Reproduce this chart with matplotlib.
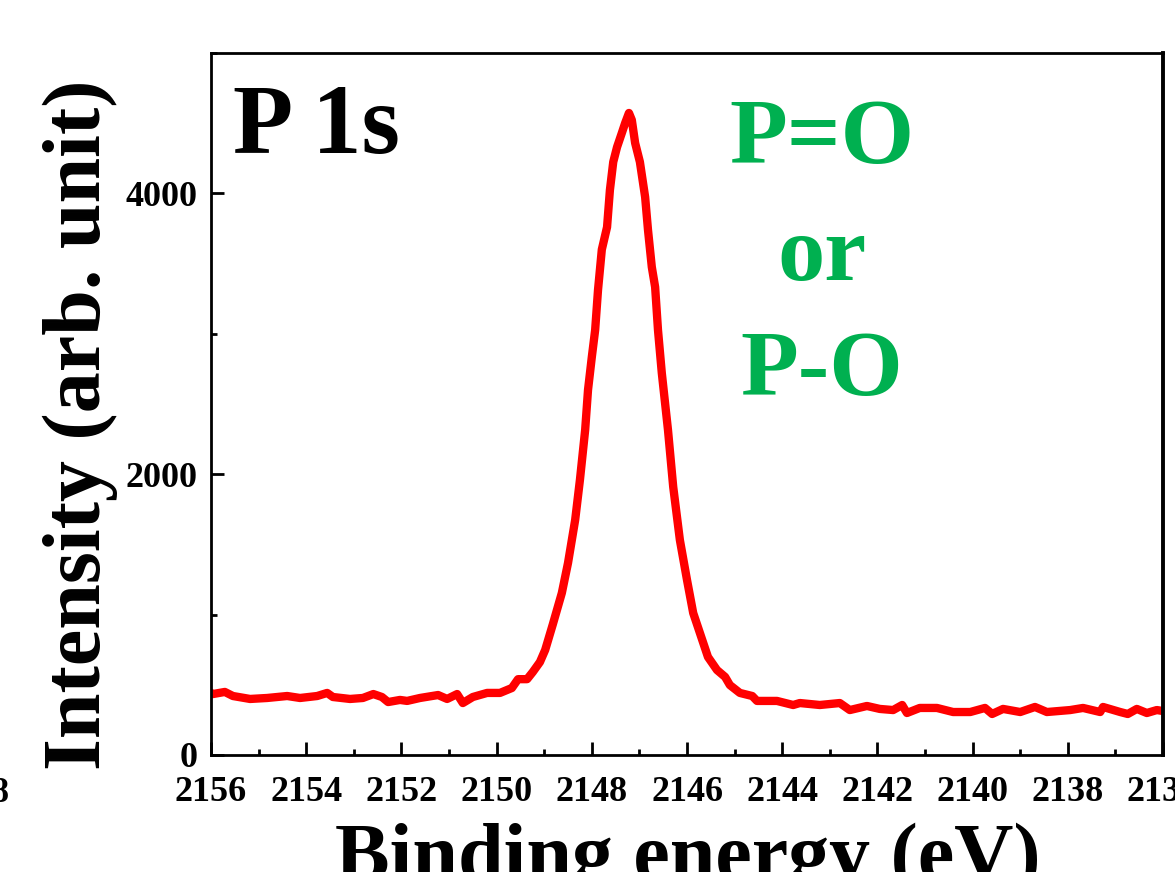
import matplotlib
matplotlib.use("Agg")
import matplotlib.pyplot as plt
from matplotlib.ticker import MultipleLocator

# P 1s spectrum
energy = [2156.00, 2155.96, 2155.71, 2155.54, 2155.18, 2154.82, 2154.40, 2154.13, 2153.77,
          2153.56, 2153.44, 2153.08, 2152.81, 2152.59, 2152.41, 2152.28, 2152.03, 2151.88,
          2151.61, 2151.23, 2151.04, 2150.83, 2150.71, 2150.50, 2150.20, 2149.93, 2149.68,
          2149.55, 2149.36, 2149.24, 2149.09, 2148.98, 2148.82, 2148.63, 2148.50, 2148.35,
          2148.25, 2148.14, 2148.08, 2148.00, 2147.93, 2147.87, 2147.79, 2147.68, 2147.62,
          2147.55, 2147.47, 2147.37, 2147.30, 2147.22, 2147.16, 2147.09, 2146.99, 2146.88,
          2146.82, 2146.74, 2146.67, 2146.61, 2146.53, 2146.40, 2146.29, 2146.15, 2146.00,
          2145.87, 2145.68, 2145.56, 2145.37, 2145.20, 2145.10, 2144.89, 2144.63, 2144.53,
          2144.11, 2143.77, 2143.63, 2143.21, 2142.79, 2142.58, 2142.22, 2141.95, 2141.67,
          2141.48, 2141.38, 2141.11, 2140.75, 2140.41, 2140.05, 2139.74, 2139.59, 2139.36,
          2139.00, 2138.69, 2138.44, 2137.95, 2137.68, 2137.32, 2137.26, 2136.90, 2136.74,
          2136.55, 2136.34, 2136.13, 2136.00]
intensity = [440, 434, 449, 420, 399, 406, 420, 406, 420,
             442, 413, 399, 406, 434, 413, 377, 392, 385,
             406, 427, 399, 434, 370, 413, 442, 442, 477,
             540, 540, 591, 662, 748, 930, 1154, 1368, 1674,
             1959, 2315, 2600, 2835, 3027, 3312, 3600, 3760, 4024,
             4224, 4330, 4430, 4501, 4573, 4523, 4359, 4224, 3974,
             3740, 3476, 3333, 3027, 2721, 2315, 1909, 1531, 1246,
             1011, 819, 698, 605, 556, 498, 442, 420, 385,
             385, 356, 370, 356, 370, 320, 349, 328, 320,
             356, 299, 335, 335, 306, 306, 335, 292, 328,
             306, 342, 306, 320, 335, 306, 342, 306, 292,
             328, 299, 320, 313]

xticks = [2156, 2154, 2152, 2150, 2148, 2146, 2144, 2142, 2140, 2138, 2136]
yticks = [0, 2000, 4000]

plt.rcParams['font.family'] = ['Liberation Serif', 'DejaVu Serif']
plt.rcParams['font.weight'] = 'bold'

fig = plt.figure(figsize=(11.75, 8.72), dpi=100)
ax = fig.add_axes([0.1796, 0.1342, 0.8102, 0.805])

ax.plot(energy, intensity, color='red', lw=6, solid_joinstyle='round')

ax.set_xlim(2156, 2136)   # binding energy goes right to left
ax.set_ylim(0, 5000)
ax.set_xticks(xticks)
ax.set_yticks(yticks)
ax.xaxis.set_minor_locator(MultipleLocator(1))
ax.yaxis.set_minor_locator(MultipleLocator(1000))

ax.tick_params(which='both', direction='in', top=False, right=False, width=2)
ax.tick_params(which='major', length=9.5, labelsize=26, pad=10)
ax.tick_params(axis='x', which='major', pad=15)
ax.tick_params(which='minor', length=4.5)
for lab in ax.get_xticklabels() + ax.get_yticklabels():
    lab.set_fontweight('bold')

for s in ax.spines.values():
    s.set_linewidth(2)
ax.spines['right'].set_linewidth(2.8)

ax.set_xlabel('Binding energy (eV)', fontsize=59, fontweight='bold', va='baseline')
ax.xaxis.set_label_coords(0.501, -0.178)
ax.set_ylabel('Intensity (arb. unit)', fontsize=59, fontweight='bold', va='center')
ax.yaxis.set_label_coords(-0.137, 0.47)

ax.text(0.023, 0.858, 'P 1s', transform=ax.transAxes, fontsize=71,
        fontweight='bold', ha='left', va='baseline')

green = '#00B050'
ax.text(0.642, 0.843, 'P=O', transform=ax.transAxes, fontsize=68,
        fontweight='bold', color=green, ha='center', va='baseline')
ax.text(0.642, 0.677, 'or', transform=ax.transAxes, fontsize=68,
        fontweight='bold', color=green, ha='center', va='baseline')
ax.text(0.642, 0.513, 'P-O', transform=ax.transAxes, fontsize=68,
        fontweight='bold', color=green, ha='center', va='baseline')

# leftover tick label from the neighbouring panel, cut by the crop
fig.text(9 / 1175, 1 - 802 / 872, '8', fontsize=26, fontweight='bold',
         ha='right', va='baseline')

fig.savefig('out.png', dpi=100)
